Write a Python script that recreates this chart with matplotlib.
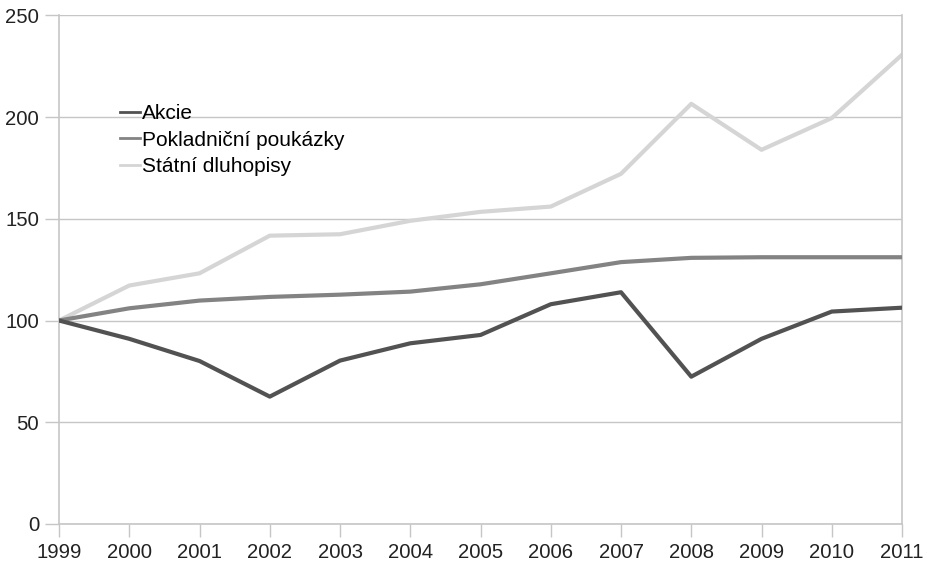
import matplotlib
matplotlib.use("Agg")
import matplotlib.pyplot as plt

years = list(range(1999, 2012))
akcie = [100, 91.0, 80.1, 62.6, 80.3, 88.8, 92.9, 108.0, 113.9, 72.4, 91.0, 104.4, 106.3]
pokladnicni = [100, 106.0, 109.8, 111.6, 112.7, 114.2, 117.8, 123.2, 128.7, 130.8, 131.1, 131.1, 131.1]
statni = [100, 117.2, 123.2, 141.7, 142.4, 149.0, 153.4, 156.0, 172.1, 206.5, 183.9, 199.5, 230.6]
series_labels = ["Akcie", "Pokladniční poukázky", "Státní dluhopisy"]
yticks = [0, 50, 100, 150, 200, 250]

plt.rcParams["font.family"] = ["Liberation Sans", "DejaVu Sans"]

fig = plt.figure(figsize=(9.28, 5.63), dpi=100)
ax = fig.add_axes([0.0636, 0.0693, 0.9084, 0.9035])

grid_c = "#c6c6c6"
ax.plot(years, akcie, color="#525252", lw=3.0, label=series_labels[0], zorder=4)
ax.plot(years, pokladnicni, color="#838383", lw=3.0, label=series_labels[1], zorder=3)
ax.plot(years, statni, color="#d5d5d5", lw=3.0, label=series_labels[2], zorder=2)

ax.set_xlim(1999, 2011)
ax.set_ylim(0, 250)
ax.set_xticks(years)
ax.set_yticks(yticks)
ax.yaxis.grid(True, color=grid_c, lw=1.0)
ax.set_axisbelow(True)
for side in ["left", "bottom", "right"]:
    ax.spines[side].set_color(grid_c)
    ax.spines[side].set_linewidth(1.2)
ax.spines["top"].set_visible(False)
ax.tick_params(axis="both", colors=grid_c, labelcolor="#222222", labelsize=14.6,
               width=1.0)
ax.tick_params(axis="y", length=10, pad=4.3)
ax.tick_params(axis="x", length=9, pad=4.5)

leg = ax.legend(loc="upper left", bbox_to_anchor=(0.063, 0.842), frameon=False,
                fontsize=15, handlelength=0.95, handletextpad=0.1,
                labelspacing=0.36, borderaxespad=0)
for h in leg.get_lines():
    h.set_linewidth(2.0)

fig.savefig("out.png", dpi=100)
